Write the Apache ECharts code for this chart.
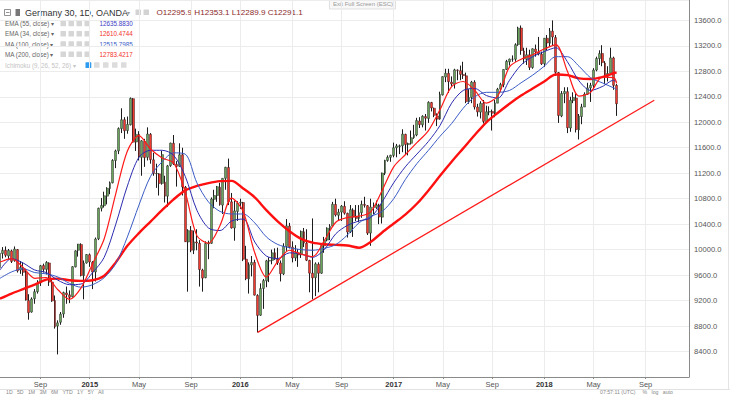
<!DOCTYPE html>
<html><head><meta charset="utf-8">
<script src="https://cdn.jsdelivr.net/npm/echarts@6/dist/echarts.min.js"></script>
<style>html,body{margin:0;padding:0;background:#fff;overflow:hidden}#c{width:730px;height:395px}</style>
</head><body><div id="c"></div>
<script>
// ---- weekly candles (Monday weeks starting 2014-05-26) ----
const firstMonday = '2014-05-26';
const weekSlots = 239;
const wkOpen = [9720,9940,9990,9900,9980,9830,10000,9680,9700,9640,
 9200,9020,9230,9340,9480,9750,9690,9790,9490,9200,
 8800,8860,8990,9320,9290,9260,9730,9990,10080,9590,
 9790,9920,
 9800,9650,10170,10650,10690,10840,10960,11050,11400,11550,
 11900,12040,11870,11960,12370,11690,11810,11450,11700,11450,
 11810,11410,11190,11190,11040,11060,10840,11320,11670,11340,
 11310,11490,10980,10120,10300,9990,10120,10100,9680,9560,
 10090,10100,10790,10850,10980,10700,11120,11290,10750,10340,
 10600,10730,
 10740,9850,9540,9760,9800,9280,8970,9390,9510,9820,
 9830,9950,9850,9790,9620,10050,10370,10040,9870,9950,
 9920,10280,10100,9830,9630,9560,9770,9630,10060,10150,
 10330,10370,10710,10540,10590,10680,10570,10280,10620,10510,
 10490,10580,10710,10690,10260,10660,10660,10700,10510,11200,
 11400,11450,
 11480,11600,11620,11630,11810,11650,11670,11760,11800,12020,
 11960,12090,12060,12310,12220,12100,12050,12430,12710,12770,
 12630,12600,12820,12810,12750,12730,12320,12390,12630,12240,
 12160,12300,12010,12160,12170,12140,12300,12520,12590,12830,
 12950,12990,12990,13220,13480,13120,12990,13060,12860,13150,
 13100,13070,
 12920,13320,13240,13430,13330,12780,12100,12450,12480,11910,
 12340,12380,11880,12090,12240,12440,12540,12580,12820,13000,
 13080,12930,12720,12770,13010,12580];
const wkHigh = [9950,10040,10050,10010,10000,10050,10010,9820,9800,9700,
 9300,9250,9380,9520,9760,9780,9820,9800,9530,9280,
 8890,9020,9340,9420,9360,9740,9990,10090,10100,9830,
 9930,9940,
 9820,10190,10660,10810,10910,10980,11070,11420,11570,11920,
 12220,12080,12090,12390,12380,11900,11860,11720,11740,11920,
 11830,11520,11350,11200,11550,11160,11330,11680,11800,11390,
 11670,11600,11000,10320,10370,10300,10320,10150,9700,10130,
 10140,10820,10940,11000,11050,11120,11300,11430,10890,10770,
 10760,10800,
 10750,10060,9800,9900,9840,9300,9470,9540,9840,9880,
 10000,10020,10030,9830,10100,10480,10420,10130,10070,10010,
 10300,10340,10320,9840,10490,9800,9800,10100,10200,10350,
 10400,10750,10800,10640,10700,10760,10580,10700,10650,10700,
 10700,10770,10830,10700,10800,10740,10770,10720,11210,11410,
 11480,11490,
 11680,11660,11650,11890,11820,11680,11870,11960,12070,12080,
 12110,12130,12330,12320,12230,12140,12480,12720,12840,12840,
 12720,12840,12830,12890,12950,12780,12520,12650,12660,12290,
 12330,12350,12260,12250,12200,12350,12540,12620,12830,12980,
 13000,13050,13240,13500,13520,13170,13170,13140,13160,13220,
 13340,13110,
 13320,13370,13480,13600,13370,12790,12490,12550,12550,12400,
 12470,12450,12130,12290,12470,12620,12620,12850,13030,13130,
 13210,12960,12880,13170,13030,12600];
const wkLow = [9700,9860,9880,9850,9790,9810,9640,9620,9590,9200,
 8900,9010,9150,9310,9430,9640,9610,9430,9180,8760,
 8355,8820,8930,9150,9160,9250,9720,9890,9580,9220,
 9780,9730,
 9380,9500,10150,10600,10660,10710,10870,11040,11280,11500,
 11830,11740,11820,11950,11680,11550,11400,11160,11300,11400,
 11350,11160,10970,10850,11020,10740,10670,11300,11330,10990,
 11300,10850,10120,9340,9960,9930,9990,9420,9340,9550,
 9850,10090,10650,10750,10690,10560,10940,10700,10330,10140,
 10450,10640,
 9820,9520,9310,9580,9280,8700,8960,9070,9410,9490,
 9770,9840,9760,9500,9600,9980,10020,9800,9820,9730,
 9870,10040,9820,9330,9220,9270,9330,9620,9950,10130,
 10150,10360,10520,10460,10450,10550,10190,10260,10200,10450,
 10430,10500,10660,10230,10060,10560,10640,10400,10410,11170,
 11380,11380,
 11450,11450,11500,11530,11500,11480,11650,11740,11780,11910,
 11920,11870,11990,12170,12080,11940,12040,12420,12630,12460,
 12570,12530,12660,12660,12680,12300,12290,12300,12200,12090,
 12060,11980,12000,12110,11870,12080,12300,12480,12550,12820,
 12890,12950,12950,13200,13060,12920,12900,12820,12840,13030,
 13050,12900,
 12870,13130,13180,13200,12730,11990,12080,12300,11830,11850,
 12300,11840,11730,11970,12240,12430,12320,12530,12800,12900,
 12880,12600,12640,12770,12510,12100];
const wkClose = [9943,9987,9912,9987,9815,10009,9666,9720,9644,9210,
 9010,9225,9339,9470,9747,9691,9799,9490,9195,8788,
 8850,8987,9326,9291,9252,9732,9980,10087,9594,9787,
 9923,9806,
 9648,10167,10649,10694,10846,10963,11050,11401,11550,11901,
 12039,11868,11967,12374,11688,11810,11454,11709,11447,11815,
 11413,11197,11196,11040,11492,10840,11315,11673,11347,11308,
 11490,10985,10124,10298,9991,10123,10104,9688,9553,10096,
 10104,10795,10850,10988,10708,11120,11293,10752,10340,10608,
 10728,10743,
 9849,9545,9764,9798,9286,8967,9388,9513,9824,9831,
 9950,9851,9794,9622,10051,10373,10039,9870,9952,9917,
 10286,10103,9834,9631,9557,9776,9629,10066,10147,10337,
 10367,10713,10544,10588,10684,10573,10276,10627,10511,10490,
 10580,10711,10696,10259,10668,10664,10700,10513,11203,11404,
 11450,11481,
 11599,11629,11630,11814,11651,11666,11757,11804,12027,11963,
 12095,12064,12313,12225,12109,12049,12438,12717,12770,12638,
 12602,12823,12815,12752,12733,12325,12389,12631,12240,12163,
 12297,12014,12165,12168,12142,12304,12519,12592,12829,12956,
 12992,12991,13218,13479,13127,12994,13060,12861,13154,13103,
 13072,12918,
 13320,13245,13434,13340,12785,12107,12452,12483,11914,12346,
 12390,11886,12097,12241,12442,12540,12580,12820,13001,13078,
 12938,12724,12767,13011,12580,12291.1];

// ---- indicator lines, read every 4 weeks from the chart ----
const maStep = 4;
const ema55 = [9680,9860,9790,9680,9640,9520,9450,9460,9640,9880,
 10400,11000,11450,11560,11560,11480,11150,10620,10340,10300,
 10450,10480,10120,9900,9860,9950,9930,9880,10000,10250,
 10380,10450,10500,10750,11050,11300,11500,11700,11950,12300,
 12500,12530,12420,12380,12660,12900,13030,13110,13170,12950,
 12650,12500,12560,12660];
const ema34 = [9805,9860,9720,9550,9560,9370,9220,9400,9780,10170,
 10880,11550,11790,11580,11440,11360,10900,10220,10100,10380,
 10810,10600,9950,9570,9820,9990,9930,9890,10140,10430,
 10505,10525,10590,10930,11300,11490,11680,11870,12200,12560,
 12640,12500,12300,12420,12870,12990,13060,13150,13220,12800,
 12410,12470,12710,12700];
const ma100 = [9550,9650,9700,9640,9620,9570,9470,9410,9450,9560,
 9780,10200,10700,11150,11380,11520,11500,11050,10750,10600,
 10560,10560,10420,10200,10080,10030,10000,9990,10020,10080,
 10230,10420,10520,10600,10800,11100,11350,11560,11780,11980,
 12220,12400,12470,12470,12500,12620,12740,12880,13030,13030,
 12880,12700,12620,12540];
const ma200 = [9230,9310,9380,9450,9530,9545,9520,9510,9520,9590,
 9800,10060,10260,10440,10620,10790,10930,11000,11045,11075,
 11080,10960,10820,10620,10440,10290,10170,10110,10085,10075,
 10065,10030,10120,10270,10410,10550,10720,10930,11160,11380,
 11590,11800,12000,12150,12290,12420,12530,12640,12750,12740,
 12690,12680,12710,12770];
const lastValues = {ema55: 12635.8830, ema34: 12610.4744, ma100: 12515.7985, ma200: 12783.4217};
const lastOHLC = {o: 12295.9, h: 12353.1, l: 12289.9, c: 12291.1};
const trendStart = [89, 8700];
const trendEnd = [226, 12345];
const yTicks = {min: 8000, max: 13920, step: 400};

// ---- build ----
const DAY = 864e5;
const t0 = Date.parse(firstMonday + 'T00:00:00Z');
const cats = [];
for (let i = 0; i < weekSlots; i++) cats.push(new Date(t0 + i * 7 * DAY).toISOString().slice(0, 10));
function fridayOf(i) { return new Date(t0 + (i * 7 + 4) * DAY); }
function isMark(i) {
  if (i === 0) return false;
  const m = fridayOf(i).getUTCMonth();
  return m !== fridayOf(i - 1).getUTCMonth() && m % 4 === 0;
}
const monthNames = ['Jan','Feb','Mar','Apr','May','Jun','Jul','Aug','Sep','Oct','Nov','Dec'];
function markLabel(v, i) {
  const f = fridayOf(i), m = f.getUTCMonth();
  return m === 0 ? '{y|' + f.getUTCFullYear() + '}' : monthNames[m];
}
const wickData = wkOpen.map((o, i) => [o, wkClose[i], wkLow[i], wkHigh[i]]);
const bodyData = wkOpen.map((o, i) => [o, wkClose[i], Math.min(o, wkClose[i]), Math.max(o, wkClose[i])]);
function maSeries(arr, last) {
  const d = arr.map((v, k) => [k * maStep, v]);
  d.push([wkClose.length - 1, last]);
  return d;
}
const FONT = '"Liberation Sans", Arial, sans-serif';
function lineS(name, data, color, width) {
  return {name, type: 'line', data, showSymbol: false, smooth: 0.3, silent: true,
    lineStyle: {color, width}, z: 3};
}
const chart = echarts.init(document.getElementById('c'), null, {renderer: 'svg'});
const lblFont = (s) => s + 'px ' + FONT;
const boxes = [];
function iconBoxes(xs, y, color) { xs.forEach(x => boxes.push({type: 'rect', shape: {x, y, width: 5.5, height: 5.5, r: 0.5}, style: {fill: color}, silent: true})); }
const legendRows = [
  ['EMA (55, close)', lastValues.ema55.toFixed(4), '#3b3bc4', 23.5],
  ['EMA (34, close)', lastValues.ema34.toFixed(4), '#f2322b', 33.8],
  ['MA (100, close)', lastValues.ma100.toFixed(4), '#3a5cc6', 44.0],
  ['MA (200, close)', lastValues.ma200.toFixed(4), '#f2322b', 54.3]
];
const gtexts = [];
legendRows.forEach(r => {
  gtexts.push({type: 'text', silent: true, style: {x: 5, y: r[3], text: r[0] + ' \u25BE', font: lblFont(6.3), fill: '#666', verticalAlign: 'middle'}});
  gtexts.push({type: 'text', silent: true, style: {x: 99.5, y: r[3], text: r[1], font: lblFont(6.3), fill: r[2], verticalAlign: 'middle'}});
  iconBoxes([60.5, 68.5, 76.5, 84.5], r[3] - 2.75, '#d6d6d6');
});
gtexts.push({type: 'text', silent: true, style: {x: 5, y: 65, text: 'Ichimoku (9, 26, 52, 26) \u25BE', font: lblFont(6.3), fill: '#c4c4c4', verticalAlign: 'middle'}});
boxes.push({type: 'rect', shape: {x: 85.5, y: 62.2, width: 5.8, height: 5.8, r: 0.5}, style: {fill: '#2d9cf0'}, silent: true});
iconBoxes([94, 103, 112, 121], 62.2, '#dcdcdc');
iconBoxes([135.5, 143.5], 9.5, '#d3d3d3');
const header = [
  {type: 'rect', silent: true, shape: {x: 4.5, y: 9.5, width: 6, height: 6}, style: {fill: '#fff', stroke: '#777', lineWidth: 0.8}},
  {type: 'line', silent: true, shape: {x1: 6, y1: 12.5, x2: 9.5, y2: 12.5}, style: {stroke: '#777', lineWidth: 0.8}},
  {type: 'rect', silent: true, shape: {x: 15.5, y: 9, width: 4.5, height: 7}, style: {fill: '#777'}},
  {type: 'text', silent: true, style: {x: 25, y: 12.8, text: 'Germany 30, 1D, OANDA', font: lblFont(9), fill: '#333', verticalAlign: 'middle'}},
  {type: 'text', silent: true, style: {x: 127, y: 12.8, text: '\u25BE', font: lblFont(6), fill: '#999', verticalAlign: 'middle'}},
  {type: 'text', silent: true, style: {x: 156.5, y: 12.8, text: 'O' + lastOHLC.o.toFixed(1) + ' H' + lastOHLC.h.toFixed(1) + ' L' + lastOHLC.l.toFixed(1) + ' C' + lastOHLC.c.toFixed(1), font: lblFont(8.1), fill: '#8c2b2b', verticalAlign: 'middle'}},
  {type: 'rect', silent: true, shape: {x: 329.5, y: -1, width: 66, height: 10}, style: {fill: '#f8f8f8', stroke: '#d4d4d4', lineWidth: 0.7}},
  {type: 'text', silent: true, style: {x: 333, y: 4, text: 'Exit Full Screen (ESC)', font: lblFont(6), fill: '#9a9a9a', verticalAlign: 'middle'}},
  {type: 'line', silent: true, shape: {x1: 0, y1: 389.5, x2: 730, y2: 389.5}, style: {stroke: '#e2e2e2', lineWidth: 1}},
  {type: 'line', silent: true, shape: {x1: 728.5, y1: 0, x2: 728.5, y2: 389}, style: {stroke: '#e4e4e4', lineWidth: 1}},
  {type: 'text', silent: true, style: {x: 6, y: 392.3, text: '1D   5D   1M   3M   6M   YTD   1Y   5Y   All', font: lblFont(5.2), fill: '#888', verticalAlign: 'middle'}},
  {type: 'text', silent: true, style: {x: 600, y: 392.3, text: '07:57:11 (UTC)     %   log   auto', font: lblFont(5.2), fill: '#888', verticalAlign: 'middle'}}
];
chart.setOption({
  animation: false,
  backgroundColor: '#fff',
  grid: {left: 0, right: 41, top: 0, bottom: 18, outerBoundsMode: 'none', containLabel: false},
  xAxis: {
    type: 'category', data: cats, boundaryGap: false,
    axisLine: {show: true, lineStyle: {color: '#8a8a8a', width: 1}},
    axisTick: {show: true, interval: isMark, length: 2, lineStyle: {color: '#8a8a8a'}},
    axisLabel: {interval: isMark, formatter: markLabel, fontSize: 7.5, color: '#555', margin: 3, fontFamily: FONT,
      rich: {y: {fontWeight: 'bold', fontSize: 7.5, color: '#333', fontFamily: FONT}}},
    splitLine: {show: true, interval: isMark, lineStyle: {color: '#ececec', width: 1}}
  },
  yAxis: {
    type: 'value', position: 'right', scale: true, min: yTicks.min, max: yTicks.max, interval: yTicks.step,
    axisLine: {show: true, lineStyle: {color: '#8a8a8a', width: 1}},
    axisTick: {show: false},
    axisLabel: {formatter: v => v.toFixed(1), fontSize: 7.6, color: '#555', margin: 5, showMinLabel: false, showMaxLabel: false, fontFamily: FONT},
    splitLine: {show: true, lineStyle: {color: '#ececec', width: 1}}
  },
  series: [
    {type: 'candlestick', data: wickData, barWidth: 1, silent: true, z: 2,
      itemStyle: {color: '#1c1c1c', color0: '#1c1c1c', borderColor: '#1c1c1c', borderColor0: '#1c1c1c', borderWidth: 1}},
    {type: 'candlestick', data: bodyData, barWidth: 2.4, silent: true, z: 2,
      itemStyle: {color: '#6aa35c', color0: '#ef3b30', borderColor: '#2a2a2a', borderColor0: '#3a1a1a', borderWidth: 0.5},
      markLine: {silent: true, symbol: 'none', lineStyle: {opacity: 0}, animation: false,
        data: [{yAxis: lastOHLC.c}],
        label: {show: true, position: 'end', distance: 1, formatter: () => lastOHLC.c.toFixed(1), backgroundColor: '#ff1a1a', color: '#fff',
          fontWeight: 'bold', fontSize: 7.2, lineHeight: 8, padding: [3.5, 3, 1.5, 3], fontFamily: FONT}}},
    lineS('MA200', maSeries(ma200, lastValues.ma200), '#ff1010', 2.4),
    lineS('MA100', maSeries(ma100, lastValues.ma100), '#3a5cc6', 1),
    lineS('EMA55', maSeries(ema55, lastValues.ema55), '#2c2cb0', 1),
    lineS('EMA34', maSeries(ema34, lastValues.ema34), '#ff1a1a', 1.2),
    {type: 'line', data: [trendStart, trendEnd], showSymbol: false, silent: true, lineStyle: {color: '#ff1a1a', width: 1.3}, z: 4}
  ],
  graphic: header.concat(gtexts, boxes)
});
</script>
</body></html>
